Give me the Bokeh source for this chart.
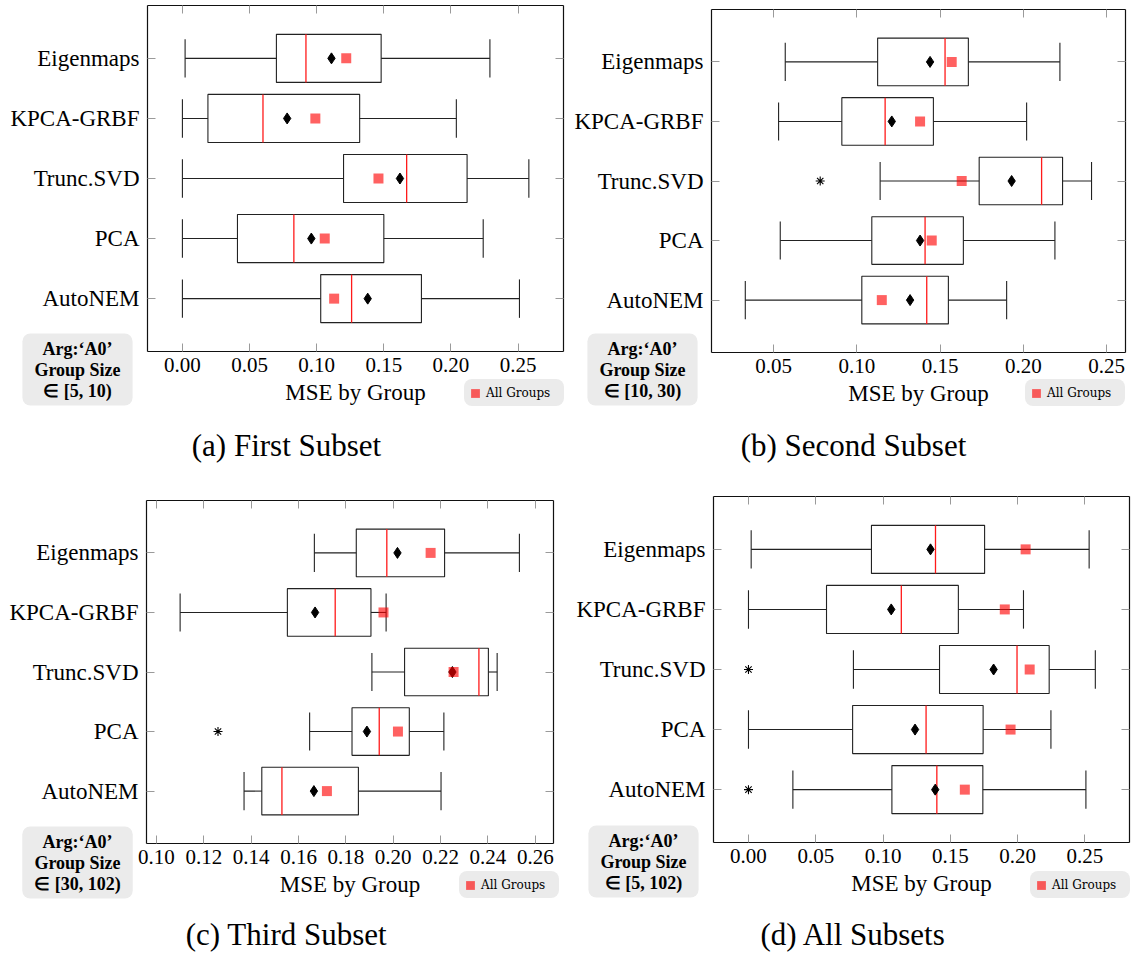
from bokeh.plotting import figure
from bokeh.models import (Range1d, FixedTicker, PrintfTickFormatter, LinearAxis,
                          Label, Legend, LegendItem, ColumnDataSource)
from bokeh.transform import dodge
from bokeh.layouts import gridplot
from bokeh.embed import file_html
from bokeh.resources import INLINE
from bokeh.core.properties import value

# ---------------- data ----------------
categories = ["Eigenmaps", "KPCA-GRBF", "Trunc.SVD", "PCA", "AutoNEM"]
x_label = "MSE by Group"
legend_label = "All Groups"

# (a) First Subset
a_low  = [0.002, 0.000, 0.000, 0.000, 0.000]
a_q1   = [0.070, 0.019, 0.120, 0.041, 0.103]
a_med  = [0.092, 0.060, 0.167, 0.083, 0.126]
a_q3   = [0.148, 0.132, 0.212, 0.150, 0.178]
a_high = [0.229, 0.204, 0.258, 0.224, 0.251]
a_mean = [0.111, 0.078, 0.162, 0.096, 0.138]
a_all  = [0.122, 0.099, 0.146, 0.106, 0.113]
a_out_cat = []
a_out_val = []
a_ticks = [0.00, 0.05, 0.10, 0.15, 0.20, 0.25]
a_caption = "(a) First Subset"
a_note = "Arg:\u2018A0\u2019\nGroup Size\n\u2208 [5, 10)"

# (b) Second Subset
b_low  = [0.057, 0.053, 0.114, 0.054, 0.033]
b_q1   = [0.1125, 0.091, 0.1735, 0.109, 0.103]
b_med  = [0.153, 0.117, 0.211, 0.141, 0.142]
b_q3   = [0.167, 0.146, 0.2236, 0.164, 0.155]
b_high = [0.222, 0.202, 0.241, 0.219, 0.190]
b_mean = [0.144, 0.121, 0.193, 0.138, 0.132]
b_all  = [0.157, 0.138, 0.163, 0.145, 0.115]
b_out_cat = ["Trunc.SVD"]
b_out_val = [0.078]
b_ticks = [0.05, 0.10, 0.15, 0.20, 0.25]
b_caption = "(b) Second Subset"
b_note = "Arg:\u2018A0\u2019\nGroup Size\n\u2208 [10, 30)"

# (c) Third Subset
c_low  = [0.1667, 0.110, 0.191, 0.1647, 0.137]
c_q1   = [0.1844, 0.1553, 0.2048, 0.1826, 0.1445]
c_med  = [0.1973, 0.1755, 0.2362, 0.1941, 0.153]
c_q3   = [0.2217, 0.1906, 0.2402, 0.2068, 0.1853]
c_high = [0.2533, 0.197, 0.2439, 0.2214, 0.2202]
c_mean = [0.2018, 0.167, 0.225, 0.1889, 0.1665]
c_all  = [0.2158, 0.1959, 0.2255, 0.202, 0.172]
c_out_cat = ["PCA"]
c_out_val = [0.126]
c_ticks = [0.10, 0.12, 0.14, 0.16, 0.18, 0.20, 0.22, 0.24, 0.26]
c_caption = "(c) Third Subset"
c_note = "Arg:\u2018A0\u2019\nGroup Size\n\u2208 [30, 102)"

# (d) All Subsets
d_low  = [0.002, 0.000, 0.078, 0.000, 0.033]
d_q1   = [0.0914, 0.058, 0.142, 0.0774, 0.1066]
d_med  = [0.139, 0.1136, 0.1996, 0.132, 0.140]
d_q3   = [0.1755, 0.156, 0.2235, 0.1744, 0.1742]
d_high = [0.2532, 0.2044, 0.2578, 0.2248, 0.2508]
d_mean = [0.1353, 0.1061, 0.1822, 0.1238, 0.1388]
d_all  = [0.206, 0.1905, 0.209, 0.1948, 0.1608]
d_out_cat = ["Trunc.SVD", "AutoNEM"]
d_out_val = [0.000, 0.000]
d_ticks = [0.00, 0.05, 0.10, 0.15, 0.20, 0.25]
d_caption = "(d) All Subsets"
d_note = "Arg:\u2018A0\u2019\nGroup Size\n\u2208 [5, 102)"

# ---------------- styling ----------------
SERIF = "Liberation Serif"
TICK_GRAY = "#9a9a9a"
BOX_BLACK = "#111111"
NOTE_FILL = "#ebebeb"
Y_LO, Y_HI = 0.12, 5.88          # vertical extent of the axis box (category units)

cat_pos = list(range(len(categories), 0, -1))   # Eigenmaps on top


def set_if(model, **kw):
    props = model.properties()
    for k, v in kw.items():
        if k in props:
            try:
                setattr(model, k, v)
            except Exception:
                pass


def set_padding(lbl):
    for pad in (dict(left=12, right=12, top=5, bottom=5), 6):
        try:
            lbl.padding = pad
            return
        except Exception:
            continue


def panel(low, q1, med, q3, high, mean, allg, out_cat, out_val, ticks,
          caption, note, xr, frame, canvas, note_c, leg_lb, cap_c):
    L, R, T, B = frame                 # axis box on the page
    cx0, cy0, cx1, cy1 = canvas        # figure cell on the page
    x0, x1 = xr
    kx = (R - L) / (x1 - x0)
    ky = (B - T) / (Y_HI - Y_LO)
    xs = x0 - (L - cx0) / kx
    xe = x1 + (cx1 - R) / kx
    ys = Y_LO - (cy1 - B) / ky
    ye = Y_HI + (T - cy0) / ky

    p = figure(width=cx1 - cx0, height=cy1 - cy0,
               x_range=Range1d(xs, xe), y_range=Range1d(ys, ye),
               x_axis_location=None, y_axis_location=None,
               output_backend="svg", toolbar_location=None, min_border=0)
    p.background_fill_color = "white"
    p.border_fill_color = "white"
    p.outline_line_color = None
    p.grid.visible = False

    common = dict(major_tick_in=8, major_tick_out=0, major_tick_line_color=TICK_GRAY,
                  minor_tick_line_color=None, axis_line_color=BOX_BLACK,
                  axis_line_width=1.2)

    xb = LinearAxis(fixed_location=Y_LO, bounds=(x0, x1),
                    ticker=FixedTicker(ticks=ticks),
                    formatter=PrintfTickFormatter(format="%.2f"),
                    axis_label=x_label,
                    major_label_text_font=SERIF, major_label_text_font_size="21px",
                    major_label_text_color="black", major_label_standoff=6,
                    axis_label_text_font=SERIF, axis_label_text_font_size="23px",
                    axis_label_text_font_style="normal", axis_label_text_color="black",
                    axis_label_standoff=5, **common)
    p.add_layout(xb, "below")
    xt = LinearAxis(fixed_location=Y_HI, bounds=(x0, x1),
                    ticker=FixedTicker(ticks=ticks),
                    major_label_text_color=None, **common)
    p.add_layout(xt, "above")
    yl = LinearAxis(fixed_location=x0, bounds=(Y_LO, Y_HI),
                    ticker=FixedTicker(ticks=cat_pos),
                    major_label_overrides={float(v): c for v, c in zip(cat_pos, categories)},
                    major_label_text_font=SERIF, major_label_text_font_size="23px",
                    major_label_text_color="black", major_label_standoff=8, **common)
    p.add_layout(yl, "left")
    yr = LinearAxis(fixed_location=x1, bounds=(Y_LO, Y_HI),
                    ticker=FixedTicker(ticks=cat_pos),
                    major_label_text_color=None, **common)
    p.add_layout(yr, "right")

    src = ColumnDataSource(dict(cat=categories, y=cat_pos, low=low, q1=q1, med=med,
                                q3=q3, high=high, mean=mean, allg=allg))
    lc = "#222222"
    p.hbar(y="y", left="q1", right="q3", height=0.8, source=src,
           fill_color="white", line_color=lc, line_width=1.1)
    p.segment(x0="low", y0="y", x1="q1", y1="y", source=src, line_color=lc, line_width=1.1)
    p.segment(x0="q3", y0="y", x1="high", y1="y", source=src, line_color=lc, line_width=1.1)
    for fld in ("low", "high"):
        p.segment(x0=fld, x1=fld, y0=dodge("y", -0.32), y1=dodge("y", 0.32),
                  source=src, line_color=lc, line_width=1.1)
    p.segment(x0="med", x1="med", y0=dodge("y", -0.4), y1=dodge("y", 0.4),
              source=src, line_color="#ff1a1a", line_width=1.3)
    p.scatter(x="mean", y="y", source=src, marker="diamond", size=11,
              fill_color="black", line_color="black")
    r_sq = p.scatter(x="allg", y="y", source=src, marker="square", size=10,
                     fill_color="red", fill_alpha=0.62, line_color=None)
    if out_cat:
        oy = [cat_pos[categories.index(c)] for c in out_cat]
        osrc = ColumnDataSource(dict(cat=out_cat, y=oy, val=out_val))
        p.scatter(x="val", y="y", source=osrc, marker="asterisk", size=9,
                  line_color="black", line_width=1.1)

    # note box (screen units from the canvas bottom-left)
    nl = Label(x=note_c[0] - cx0, y=cy1 - note_c[1], x_units="screen", y_units="screen",
               text=note, text_align="center", text_baseline="middle",
               text_font=SERIF, text_font_size="18px", text_font_style="bold",
               text_color="black", background_fill_color=NOTE_FILL,
               background_fill_alpha=1.0, border_line_color=None)
    set_if(nl, text_line_height=1.05, border_radius=8)
    set_padding(nl)
    p.add_layout(nl)

    # "All Groups" legend
    leg = Legend(items=[LegendItem(label=value(legend_label), renderers=[r_sq])],
                 location=(leg_lb[0] - cx0, cy1 - leg_lb[1]),
                 background_fill_color=NOTE_FILL, background_fill_alpha=1.0,
                 border_line_color=None, padding=0, margin=0, spacing=0,
                 glyph_width=22, glyph_height=22, label_standoff=0,
                 label_width=78, label_height=27,
                 label_text_font="DejaVu Serif", label_text_font_size="12px",
                 label_text_color="black")
    set_if(leg, border_radius=8)
    p.add_layout(leg)

    # caption
    cl = Label(x=cap_c[0] - cx0, y=cy1 - cap_c[1], x_units="screen", y_units="screen",
               text=caption, text_align="center", text_baseline="middle",
               text_font=SERIF, text_font_size="31px", text_color="black")
    p.add_layout(cl)
    return p


pa = panel(a_low, a_q1, a_med, a_q3, a_high, a_mean, a_all, a_out_cat, a_out_val, a_ticks,
           a_caption, a_note, (-0.026, 0.2838),
           (147, 563, 5, 351), (0, 0, 566, 495), (77, 369), (464, 406), (286, 445))
pb = panel(b_low, b_q1, b_med, b_q3, b_high, b_mean, b_all, b_out_cat, b_out_val, b_ticks,
           b_caption, b_note, (0.0127, 0.2614),
           (711, 1125, 9, 352), (566, 0, 1131, 495), (642, 369), (1025, 406), (853, 445))
pc = panel(c_low, c_q1, c_med, c_q3, c_high, c_mean, c_all, c_out_cat, c_out_val, c_ticks,
           c_caption, c_note, (0.0958, 0.2677),
           (146, 553, 500, 843), (0, 495, 566, 956), (77, 862), (459, 898), (286, 934))
pd_ = panel(d_low, d_q1, d_med, d_q3, d_high, d_mean, d_all, d_out_cat, d_out_val, d_ticks,
            d_caption, d_note, (-0.026, 0.2832),
            (713, 1129, 496, 842), (566, 495, 1131, 956), (643, 861), (1030, 898), (853, 934))

grid = gridplot([[pa, pb], [pc, pd_]], toolbar_location=None)

open("out.html", "w").write(file_html(grid, INLINE))
